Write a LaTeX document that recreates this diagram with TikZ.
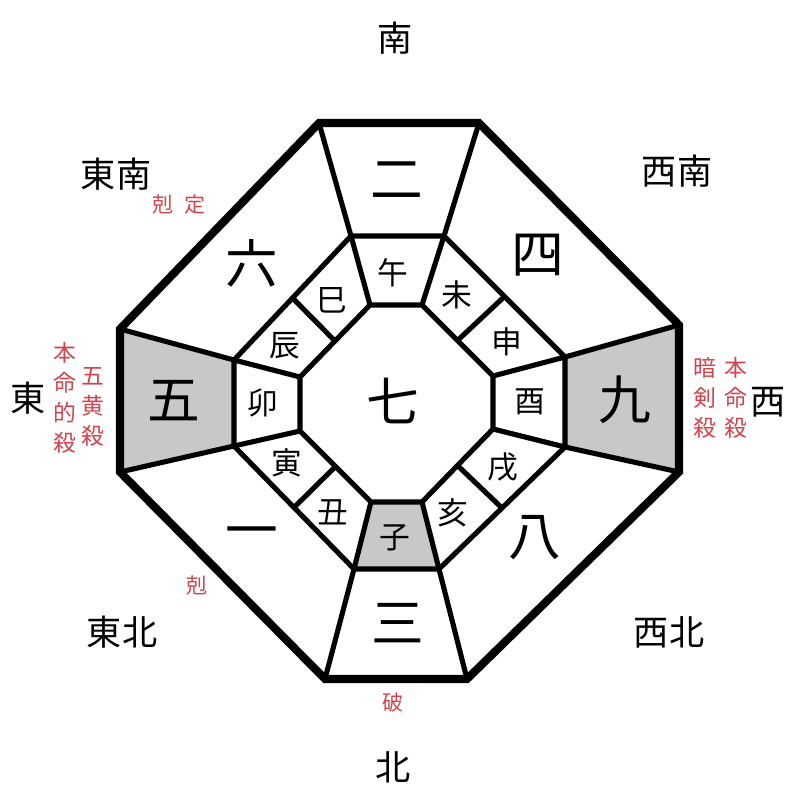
\documentclass[tikz,border=0pt]{standalone}
\usepackage{fontspec}
\setmainfont{Noto Sans CJK JP}
\usetikzlibrary{calc}
\definecolor{ink}{HTML}{000000}
\definecolor{cellgray}{HTML}{C8C8C8}
\definecolor{warn}{HTML}{D2434B}

\begin{document}
\begin{tikzpicture}[x=0.02cm,y=-0.02cm,
  rim/.style={draw=ink,line width=4.6pt,line join=miter},
  wall/.style={draw=ink,line width=2.9pt,line join=miter},
  dirlab/.style={font=\fontsize{20}{24}\selectfont,text=ink},
  numlab/.style={font=\fontsize{30}{36}\selectfont,text=ink},
  zodlab/.style={font=\fontsize{17.5}{20}\selectfont,text=ink},
  note/.style={font=\fontsize{13}{17}\selectfont,text=warn,align=center}]
\useasboundingbox (0,0) rectangle (800,800);
% octagon corners, clockwise from top left
\coordinate (o1) at (319,123); \coordinate (o2) at (479,123);
\coordinate (o3) at (679,325); \coordinate (o4) at (679,472);
\coordinate (o5) at (467,679); \coordinate (o6) at (325,679);
\coordinate (o7) at (120,472); \coordinate (o8) at (120,329);
\coordinate (m1) at (351,236); \coordinate (m2) at (444,236);
\coordinate (m3) at (565,357); \coordinate (m4) at (565,447);
\coordinate (m5) at (439,569); \coordinate (m6) at (354,569);
\coordinate (m7) at (234,446); \coordinate (m8) at (234,360);
\coordinate (i1) at (370,305); \coordinate (i2) at (422,305);
\coordinate (i3) at (493,376); \coordinate (i4) at (493,429);
\coordinate (i5) at (422,502); \coordinate (i6) at (371,502);
\coordinate (i7) at (300,431); \coordinate (i8) at (300,377);
% shaded cells
\fill[cellgray] (o7)--(o8)--(m8)--(m7)--cycle;
\fill[cellgray] (o3)--(o4)--(m4)--(m3)--cycle;
\fill[cellgray] (m5)--(m6)--(i6)--(i5)--cycle;
\draw[wall] (m1)--(m2)--(m3)--(m4)--(m5)--(m6)--(m7)--(m8)--cycle;
\draw[wall] (i1)--(i2)--(i3)--(i4)--(i5)--(i6)--(i7)--(i8)--cycle;
\foreach \k in {1,...,8} \draw[wall] (o\k)--(m\k)--(i\k);
\foreach \a/\b in {2/3,4/5,6/7,8/1}
  \draw[wall] ($(m\a)!0.5!(m\b)$)--($(i\a)!0.5!(i\b)$);
\draw[rim] (o1)--(o2)--(o3)--(o4)--(o5)--(o6)--(o7)--(o8)--cycle;
% directions
\node[dirlab] (s) at (395,38) {南};
\node[dirlab] (se) at (116,174) {東南};
\node[dirlab] (sw) at (677,171) {西南};
\node[dirlab] (e) at (28,398) {東};
\node[dirlab] (w) at (768,402) {西};
\node[dirlab] (ne) at (122,632) {東北};
\node[dirlab] (nw) at (669,632) {西北};
\node[dirlab] (n) at (393,767) {北};
% stars
\node[numlab] (n7) at (393,401) {七};
\node[numlab] (n2) at (397,180) {二};
\node[numlab] (n4) at (538,255) {四};
\node[numlab] (n9) at (625,400) {九};
\node[numlab] (n8) at (535,538) {八};
\node[numlab] (n3) at (398,623) {三};
\node[numlab] (n1) at (252,538) {一};
\node[numlab] (n5) at (174,401) {五};
\node[numlab] (n6) at (252,263) {六};
% branches
\node[zodlab] (z1) at (393,273) {午};
\node[zodlab] (z2) at (457,295) {未};
\node[zodlab] (z3) at (507,342) {申};
\node[zodlab] (z4) at (530,402) {酉};
\node[zodlab] (z5) at (503,467) {戌};
\node[zodlab] (z6) at (453,513) {亥};
\node[zodlab] (z7) at (395,538) {子};
\node[zodlab] (z8) at (333,512) {丑};
\node[zodlab] (z9) at (287,463) {寅};
\node[zodlab] (z10) at (263,403) {卯};
\node[zodlab] (z11) at (285,346) {辰};
\node[zodlab] (z12) at (332,300) {巳};
% red marks
\node[note,font=\fontsize{12}{14}\selectfont] (k1) at (179,205) {剋\hspace{0.5em}定};
\node[note] (k2) at (65,398) {本\\命\\的\\殺};
\node[note] (k3) at (93,407) {五\\黄\\殺};
\node[note] (k4) at (705,398) {暗\\剣\\殺};
\node[note] (k5) at (736,398) {本\\命\\殺};
\node[note,font=\fontsize{12}{14}\selectfont] (k6) at (197,586) {剋};
\node[note,font=\fontsize{12}{14}\selectfont] (k7) at (393,702) {破};
\end{tikzpicture}
\end{document}
